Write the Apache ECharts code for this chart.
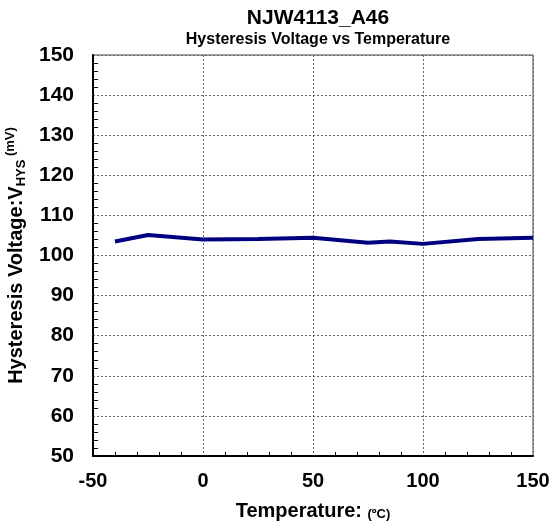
<!DOCTYPE html>
<html><head><meta charset="utf-8">
<script src="https://cdn.jsdelivr.net/npm/echarts@6/dist/echarts.min.js"></script>
<style>html,body{margin:0;padding:0;background:#fff}#c{width:553px;height:526px}</style>
</head><body><div id="c"></div>
<script>
var temperatures = [-40, -25, 0, 25, 50, 75, 85, 100, 125, 150];
var hysteresis = [103.5, 105.1, 104.0, 104.1, 104.4, 103.2, 103.5, 102.9, 104.1, 104.4];
var titleText = 'NJW4113_A46';
var subtitleText = 'Hysteresis Voltage vs Temperature';

var F = 'Liberation Sans, Arial, sans-serif';
var chart = echarts.init(document.getElementById('c'), null, {renderer: 'canvas'});
chart.setOption({
  animation: false,
  backgroundColor: '#fff',
  title: {
    text: titleText, subtext: subtitleText, top: 3, itemGap: 3,
    left: 313, textAlign: 'center',
    textStyle: {fontFamily: F, fontWeight: 'bold', fontSize: 21, color: '#000'},
    subtextStyle: {fontFamily: F, fontWeight: 'bold', fontSize: 16, color: '#000'}
  },
  grid: {left: 93, top: 55, right: 20, bottom: 70, containLabel: false, outerBoundsMode: 'none',
    show: true, borderColor: '#444', borderWidth: 1},
  xAxis: {
    type: 'value', min: -50, max: 150, interval: 50,
    axisLine: {onZero: false, lineStyle: {color: '#000', width: 2}},
    axisTick: {show: false, inside: true},
    minorTick: {show: true, splitNumber: 5, length: 4, lineStyle: {color: '#000', width: 1}},
    axisLabel: {fontFamily: F, fontWeight: 'bold', fontSize: 20, color: '#000', margin: 15},
    splitLine: {show: true, lineStyle: {color: '#666', type: [2, 2], width: 1}},
    name: '{a|Temperature: }{b|(ºC)}', nameLocation: 'middle', nameGap: 45,
    nameTextStyle: {rich: {
      a: {fontFamily: F, fontWeight: 'bold', fontSize: 20, color: '#000', lineHeight: 20},
      b: {fontFamily: F, fontWeight: 'bold', fontSize: 13, color: '#000', verticalAlign: 'bottom', lineHeight: 20}
    }}
  },
  yAxis: {
    type: 'value', min: 50, max: 150, interval: 10,
    axisLine: {onZero: false, lineStyle: {color: '#000', width: 2}},
    axisTick: {show: false, inside: true},
    minorTick: {show: true, splitNumber: 5, length: 5, lineStyle: {color: '#000', width: 1}},
    axisLabel: {fontFamily: F, fontWeight: 'bold', fontSize: 21, color: '#000', margin: 19},
    splitLine: {show: true, lineStyle: {color: '#666', type: [2, 2], width: 1}},
    name: '{a|Hysteresis Voltage:V}{s|HYS}{b| (mV)}', nameLocation: 'middle', nameGap: 62,
    nameTextStyle: {rich: {
      a: {fontFamily: F, fontWeight: 'bold', fontSize: 20, color: '#000', lineHeight: 24},
      s: {fontFamily: F, fontWeight: 'bold', fontSize: 13, color: '#000', verticalAlign: 'bottom', lineHeight: 24},
      b: {fontFamily: F, fontWeight: 'bold', fontSize: 13, color: '#000', verticalAlign: 'top', lineHeight: 24}
    }}
  },
  series: [{
    type: 'line', data: temperatures.map(function (t, i) { return [t, hysteresis[i]]; }),
    showSymbol: false, symbol: 'none',
    lineStyle: {color: '#000080', width: 4}
  }]
});
</script></body></html>
